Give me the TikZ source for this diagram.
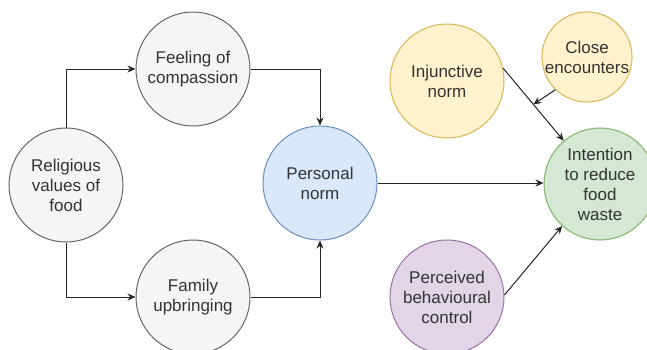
\documentclass[tikz,border=0pt]{standalone}
\usepackage{fontspec}
\setmainfont{Liberation Sans}
\usetikzlibrary{arrows.meta}
\definecolor{gfill}{HTML}{F5F5F5}\definecolor{gdraw}{HTML}{666666}
\definecolor{bfill}{HTML}{DAE8FC}\definecolor{bdraw}{HTML}{6C8EBF}
\definecolor{yfill}{HTML}{FFF2CC}\definecolor{ydraw}{HTML}{D6B656}
\definecolor{nfill}{HTML}{D5E8D4}\definecolor{ndraw}{HTML}{82B366}
\definecolor{pfill}{HTML}{E1D5E7}\definecolor{pdraw}{HTML}{9673A6}
\definecolor{txt}{HTML}{333333}
\tikzset{
  bubble/.style={circle, minimum size=114pt, inner sep=0pt, line width=1pt, align=center, text=txt,
    font=\fontsize{17}{20}\selectfont},
  grayc/.style={bubble, fill=gfill, draw=gdraw},
  bluec/.style={bubble, fill=bfill, draw=bdraw},
  yellowc/.style={bubble, fill=yfill, draw=ydraw},
  greenc/.style={bubble, fill=nfill, draw=ndraw},
  purplec/.style={bubble, fill=pfill, draw=pdraw},
  conn/.style={draw=black!85, line width=1pt, -{Stealth[length=8pt,width=7pt]}}
}
\begin{document}
\begin{tikzpicture}[x=1pt,y=-1pt]
\useasboundingbox[fill=white] (0,0) rectangle (647,349);
\node[grayc] (rel) at (66,185) {Religious\\values of\\food};
\node[grayc] (feel) at (193,69) {Feeling of\\compassion};
\node[grayc] (fam) at (193,297) {Family\\upbringing};
\node[bluec] (pers) at (320,183) {Personal\\norm};
\node[yellowc] (inj) at (447,81) {Injunctive\\norm};
\node[yellowc, minimum size=86pt] (close) at (587,57) {Close\\encounters};
\node[greenc, minimum size=112pt] (int) at (600,184) {Intention\\to reduce\\food\\waste};
\node[purplec] (perc) at (447,297) {Perceived\\behavioural\\control};
\draw[conn] (rel.north) |- (feel.west);
\draw[conn] (rel.south) |- (fam.west);
\draw[conn] (feel.east) -| (pers.north);
\draw[conn] (fam.east) -| (pers.south);
\draw[conn] (pers.east) -- (int.west |- pers.east);
\draw[conn] (inj.13) -- coordinate[pos=0.5] (mid) (int.130);
\draw[conn] (close.226) -- (mid);
\draw[conn] (perc.2) -- (int.228);
\end{tikzpicture}
\end{document}
